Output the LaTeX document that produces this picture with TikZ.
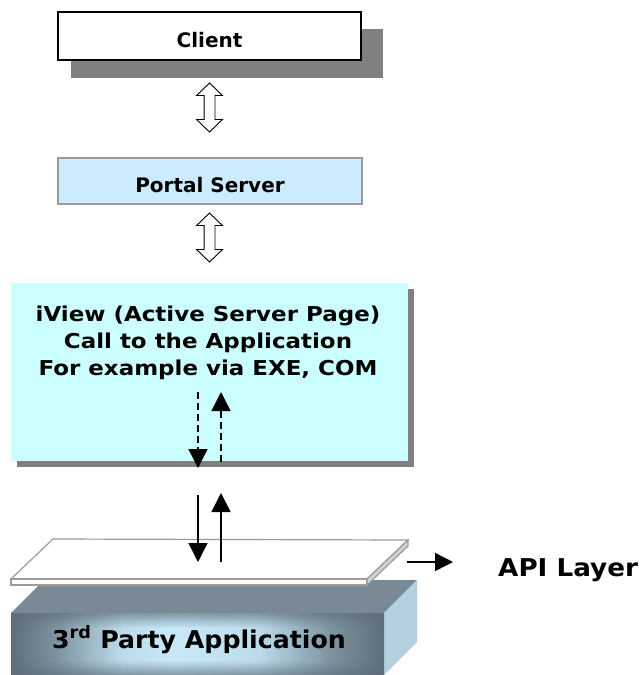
\documentclass[tikz,border=0pt]{standalone}
\usepackage{fontspec}
\setmainfont{DejaVu Sans}
\usetikzlibrary{positioning,shapes.arrows,shadows,arrows.meta,fadings}
\definecolor{shadowgray}{HTML}{808080}
\definecolor{edgegray}{HTML}{9A9A9A}
\definecolor{portalblue}{HTML}{CCEBFF}
\definecolor{iviewcyan}{HTML}{CCFFFF}
\definecolor{slatetop}{HTML}{798A96}
\definecolor{slatedark}{HTML}{5D6E79}
\definecolor{appglow}{HTML}{C8E8F8}
\definecolor{sideblue}{HTML}{B4CFE0}
\pgfdeclarehorizontalshading{appband}{100bp}{color(0bp)=(slatedark); color(25bp)=(slatedark); color(31bp)=(slatedark!70!appglow);
    color(40bp)=(appglow!90!slatedark); color(47bp)=(appglow); color(58bp)=(appglow!90!slatedark); color(68bp)=(slatedark!70!appglow);
    color(75bp)=(slatedark); color(100bp)=(slatedark)}
\pgfdeclareverticalshading{appedge}{100bp}{color(0bp)=(pgftransparent!0); color(25bp)=(pgftransparent!0); color(37bp)=(pgftransparent!100);
    color(63bp)=(pgftransparent!100); color(75bp)=(pgftransparent!0); color(100bp)=(pgftransparent!0)}
\pgfdeclarefading{appedgefade}{\pgfuseshading{appedge}}
\tikzstyle{box}=[rectangle, inner sep=0pt, text height=23pt, text depth=0pt, font=\bfseries\fontsize{20}{24}\selectfont]
\tikzstyle{hollow}=[double arrow, draw, fill=white, rotate=90, inner sep=5pt, minimum height=49pt, double arrow head extend=7.5pt, double arrow tip angle=92, line width=0.9pt]
\tikzstyle{flow}=[line width=1.4pt, -{Triangle[width=19pt,length=19pt]}]
\tikzstyle{bigtext}=[inner sep=0pt, font=\bfseries\fontsize{24.5}{28}\selectfont]
\newcommand{\hollow}{\node[hollow]}

\begin{document}
\begin{tikzpicture}[x=1pt,y=-1pt]
            \useasboundingbox (0,0) rectangle (642,675);
            % the three boxes
            \node[box, draw, line width=1.3pt, fill=white, minimum width=303pt, minimum height=48pt,
                drop shadow={shadow xshift=17pt, shadow yshift=-17pt, shadow scale=1.03, fill=shadowgray, opacity=1}]
                (client) at (209.5,36) {Client};
            \node[box, draw=edgegray, line width=1.5pt, fill=portalblue, minimum width=304pt, minimum height=46pt]
                (portal) at (210,181) {Portal Server};
            \node[box, fill=iviewcyan, minimum width=397pt, minimum height=178pt,
                drop shadow={shadow xshift=6pt, shadow yshift=-6pt, fill=shadowgray, opacity=1}]
                (iview) at (209.5,372) {};
            \node[align=center, anchor=north, xscale=1.12, font=\bfseries\fontsize{20.5}{27}\selectfont]
                (iviewtext) at (208,302)
                {iView (Active Server Page)\\Call to the Application\\For example via EXE, COM};
            \hollow (c2p) at (209.5,107.5) {};
            \hollow (p2i) at (209.5,237.5) {};
            % 3rd party block
            \fill[slatetop] (11,613) -- (44,580) -- (417,580) -- (384,613) -- cycle;
            \fill[sideblue] (384,613) -- (417,580) -- (417,642) -- (384,675) -- cycle;
            \shade[shading=appband] (11,613) rectangle (384,675);
            \fill[slatedark, path fading=appedgefade, fit fading=true, fill opacity=0.65] (11,613) rectangle (384,675);
            \node[bigtext, anchor=base, xscale=1.03] (app) at (199,648) {3\textsuperscript{rd} Party Application};
            % api layer plate
            \filldraw[fill=white, draw=edgegray, line width=1.2pt] (11,579) -- (53,539) -- (408,540) -- (367,579) -- cycle;
            \filldraw[fill=white, draw=edgegray, line width=1.2pt] (11,579) rectangle (367,585);
            \filldraw[fill=gray!35, draw=edgegray, line width=1.2pt] (367,579) -- (408,540) -- (408,546) -- (367,585) -- cycle;
            \node[bigtext, anchor=base west, xscale=1.07] (api) at (498,576) {API Layer};
            % calls
            \coordinate (dn1) at (198,392);
            \coordinate (dn2) at (198,468);
            \coordinate (up1) at (221,462);
            \coordinate (up2) at (221,392);
            \coordinate (dn3) at (198,495);
            \coordinate (dn4) at (198,562);
            \coordinate (up3) at (221,562);
            \coordinate (up4) at (221,493);
            \coordinate (plate) at (407,562);
            \path[flow, dash pattern=on 7pt off 4pt]
                (dn1) edge (dn2)
                (up1) edge (up2)
            ;
            \path[flow]
                (dn3) edge (dn4)
                (up3) edge (up4)
            ;
            \path[flow, -{Triangle[width=18pt,length=18pt]}]
                (plate) edge ([xshift=46pt]plate)
            ;
        \end{tikzpicture}
\end{document}
